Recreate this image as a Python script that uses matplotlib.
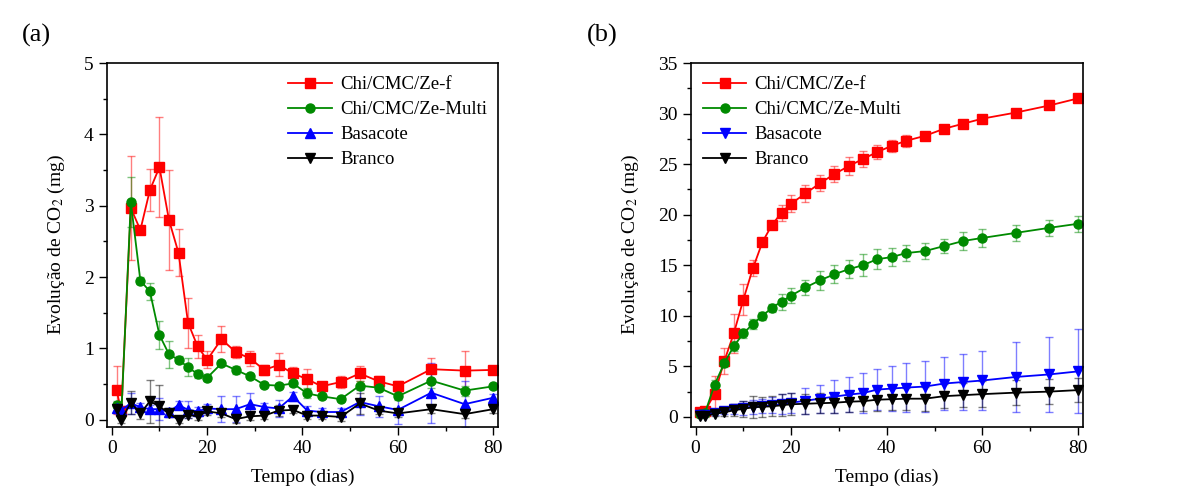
import matplotlib
matplotlib.use("Agg")
import matplotlib.pyplot as plt
from matplotlib.colors import to_rgba
from matplotlib.ticker import MultipleLocator

plt.rcParams["font.family"] = ["Liberation Serif", "DejaVu Serif"]
plt.rcParams["mathtext.fontset"] = "stix"

dias = [1, 2, 4, 6, 8, 10, 12, 14, 16, 18, 20, 23, 26, 29, 32, 35, 38, 41, 44,
        48, 52, 56, 60, 67, 74, 80]
labels = ["Chi/CMC/Ze-f", "Chi/CMC/Ze-Multi", "Basacote", "Branco"]

# (a) daily CO2 evolution
a_zef = [0.42, 0.12, 2.97, 2.66, 3.22, 3.54, 2.80, 2.34, 1.36, 1.03, 0.84, 1.13, 0.95,
         0.86, 0.70, 0.77, 0.65, 0.57, 0.47, 0.53, 0.65, 0.54, 0.47, 0.71, 0.69, 0.70]
a_zef_err = [0.34, 0.05, 0.73, 0.05, 0.30, 0.70, 0.70, 0.33, 0.35, 0.16, 0.12, 0.18, 0.09,
             0.10, 0.07, 0.16, 0.09, 0.14, 0.03, 0.09, 0.10, 0.07, 0.08, 0.16, 0.27, 0.02]
a_multi = [0.21, 0.07, 3.05, 1.95, 1.80, 1.19, 0.92, 0.84, 0.74, 0.64, 0.59, 0.79, 0.70,
           0.61, 0.49, 0.48, 0.51, 0.37, 0.33, 0.29, 0.48, 0.45, 0.33, 0.55, 0.41, 0.47]
a_multi_err = [0.05, 0.05, 0.35, 0.05, 0.12, 0.20, 0.19, 0.05, 0.13, 0.06, 0.05, 0.04, 0.06,
               0.03, 0.03, 0.03, 0.04, 0.07, 0.03, 0.03, 0.06, 0.05, 0.05, 0.10, 0.07, 0.03]
a_basa = [0.16, 0.14, 0.23, 0.18, 0.15, 0.15, 0.11, 0.21, 0.14, 0.12, 0.16, 0.15, 0.15,
          0.22, 0.18, 0.16, 0.33, 0.13, 0.11, 0.11, 0.25, 0.19, 0.14, 0.38, 0.22, 0.31]
a_basa_err = [0.06, 0.06, 0.15, 0.06, 0.06, 0.15, 0.06, 0.06, 0.12, 0.06, 0.06, 0.18, 0.18,
              0.15, 0.06, 0.12, 0.06, 0.06, 0.06, 0.06, 0.18, 0.15, 0.20, 0.42, 0.32, 0.05]
a_branco = [0.15, 0.00, 0.24, 0.09, 0.26, 0.19, 0.09, 0.00, 0.07, 0.05, 0.12, 0.09, 0.01,
            0.05, 0.06, 0.13, 0.14, 0.06, 0.06, 0.04, 0.23, 0.13, 0.09, 0.15, 0.08, 0.15]
a_branco_err = [0.05, 0.05, 0.16, 0.08, 0.30, 0.30, 0.05, 0.05, 0.05, 0.05, 0.05, 0.05, 0.05,
                0.05, 0.05, 0.08, 0.05, 0.05, 0.05, 0.05, 0.15, 0.05, 0.05, 0.05, 0.05, 0.05]

# (b) cumulative CO2 evolution
b_zef = [0.5, 0.6, 2.3, 5.5, 8.25, 11.6, 14.7, 17.3, 19.0, 20.2, 21.1, 22.1, 23.1, 24.0,
         24.8, 25.5, 26.2, 26.8, 27.3, 27.8, 28.5, 29.0, 29.5, 30.1, 30.8, 31.5]
b_zef_err = [0.2, 0.2, 1.7, 1.3, 1.9, 1.5, 0.8, 0.4, 0.4, 0.8, 0.8, 0.8, 0.8, 0.8,
             0.9, 0.8, 0.7, 0.6, 0.6, 0.4, 0.3, 0.3, 0.3, 0.3, 0.3, 0.4]
b_multi = [0.33, 0.43, 3.2, 5.3, 7.0, 8.25, 9.2, 10.0, 10.8, 11.4, 12.0, 12.8, 13.5, 14.1,
           14.6, 15.0, 15.6, 15.8, 16.2, 16.4, 16.9, 17.4, 17.7, 18.2, 18.7, 19.1]
b_multi_err = [0.2, 0.2, 0.4, 0.4, 0.5, 0.4, 0.5, 0.4, 0.4, 0.8, 0.7, 0.7, 0.9, 0.9,
               0.9, 1.1, 1.0, 0.9, 0.8, 0.8, 0.7, 0.9, 0.9, 0.8, 0.8, 0.8]
b_basa = [0.15, 0.2, 0.4, 0.6, 0.75, 0.9, 1.0, 1.05, 1.15, 1.25, 1.4, 1.6, 1.8, 2.0,
          2.2, 2.35, 2.7, 2.8, 2.9, 3.0, 3.3, 3.45, 3.6, 3.95, 4.2, 4.5]
b_basa_err = [0.1, 0.1, 0.2, 0.3, 0.5, 0.7, 0.7, 0.7, 0.8, 1.0, 1.0, 1.3, 1.4, 1.6,
              1.7, 2.0, 2.0, 2.25, 2.4, 2.55, 2.6, 2.75, 2.9, 3.45, 3.7, 4.15]
b_branco = [0.05, 0.1, 0.3, 0.45, 0.65, 0.8, 0.95, 1.0, 1.05, 1.15, 1.25, 1.3, 1.35, 1.4,
            1.5, 1.55, 1.7, 1.75, 1.8, 1.8, 2.05, 2.15, 2.25, 2.4, 2.5, 2.65]
b_branco_err = [0.1, 0.1, 0.2, 0.4, 0.6, 0.8, 1.1, 1.0, 1.0, 1.1, 1.1, 1.0, 1.0, 1.0,
                1.0, 1.0, 1.1, 1.1, 1.1, 1.2, 1.2, 1.2, 1.3, 1.2, 1.2, 1.2]

COLORS = ["#ff0000", "#008a00", "#0000ff", "#000000"]


def draw(ax, series, markers, legend_loc, ylim, ymajor, yminor, anchor):
    handles = []
    for (y, e), lab, c, m in zip(series, labels, COLORS, markers):
        eb = ax.errorbar(dias, y, yerr=e, color=c, marker=m, ms=6.5, lw=1.3,
                         ecolor=to_rgba(c, 0.5), elinewidth=1, capsize=3, label=lab)
        handles.append(eb[0])
    ax.set_xlim(-1, 81)
    ax.set_ylim(*ylim)
    ax.xaxis.set_major_locator(MultipleLocator(20))
    ax.xaxis.set_minor_locator(MultipleLocator(10))
    ax.yaxis.set_major_locator(MultipleLocator(ymajor))
    ax.yaxis.set_minor_locator(MultipleLocator(yminor))
    ax.tick_params(which="both", direction="out", labelsize=14, width=1)
    ax.tick_params(which="major", length=6)
    ax.tick_params(which="minor", length=3)
    for s in ax.spines.values():
        s.set_linewidth(1.2)
    ax.set_xlabel("Tempo (dias)", fontsize=14, labelpad=8)
    ax.set_ylabel("Evolução de CO$_2$ (mg)", fontsize=14, labelpad=12)
    ax.legend(handles, labels, loc=legend_loc, bbox_to_anchor=anchor, frameon=False,
              fontsize=13.5, handlelength=2.3, labelspacing=0.42, handletextpad=0.45,
              borderaxespad=0.5)


fig = plt.figure(figsize=(11.98, 5.01), dpi=100)
ax_a = fig.add_axes([0.0893, 0.1477, 0.3264, 0.7265])
ax_b = fig.add_axes([0.5766, 0.1477, 0.3272, 0.7265])

draw(ax_a, [(a_zef, a_zef_err), (a_multi, a_multi_err), (a_basa, a_basa_err),
            (a_branco, a_branco_err)],
     ["s", "o", "^", "v"], "upper right", (-0.1, 5), 1, 0.5, (1.015, 1.01))
draw(ax_b, [(b_zef, b_zef_err), (b_multi, b_multi_err), (b_basa, b_basa_err),
            (b_branco, b_branco_err)],
     ["s", "o", "v", "v"], "upper left", (-1, 35), 5, 2.5, (-0.012, 1.01))

fig.text(0.018, 0.93, "(a)", fontsize=19, va="center")
fig.text(0.49, 0.93, "(b)", fontsize=19, va="center")

fig.savefig("out.png", dpi=100)
